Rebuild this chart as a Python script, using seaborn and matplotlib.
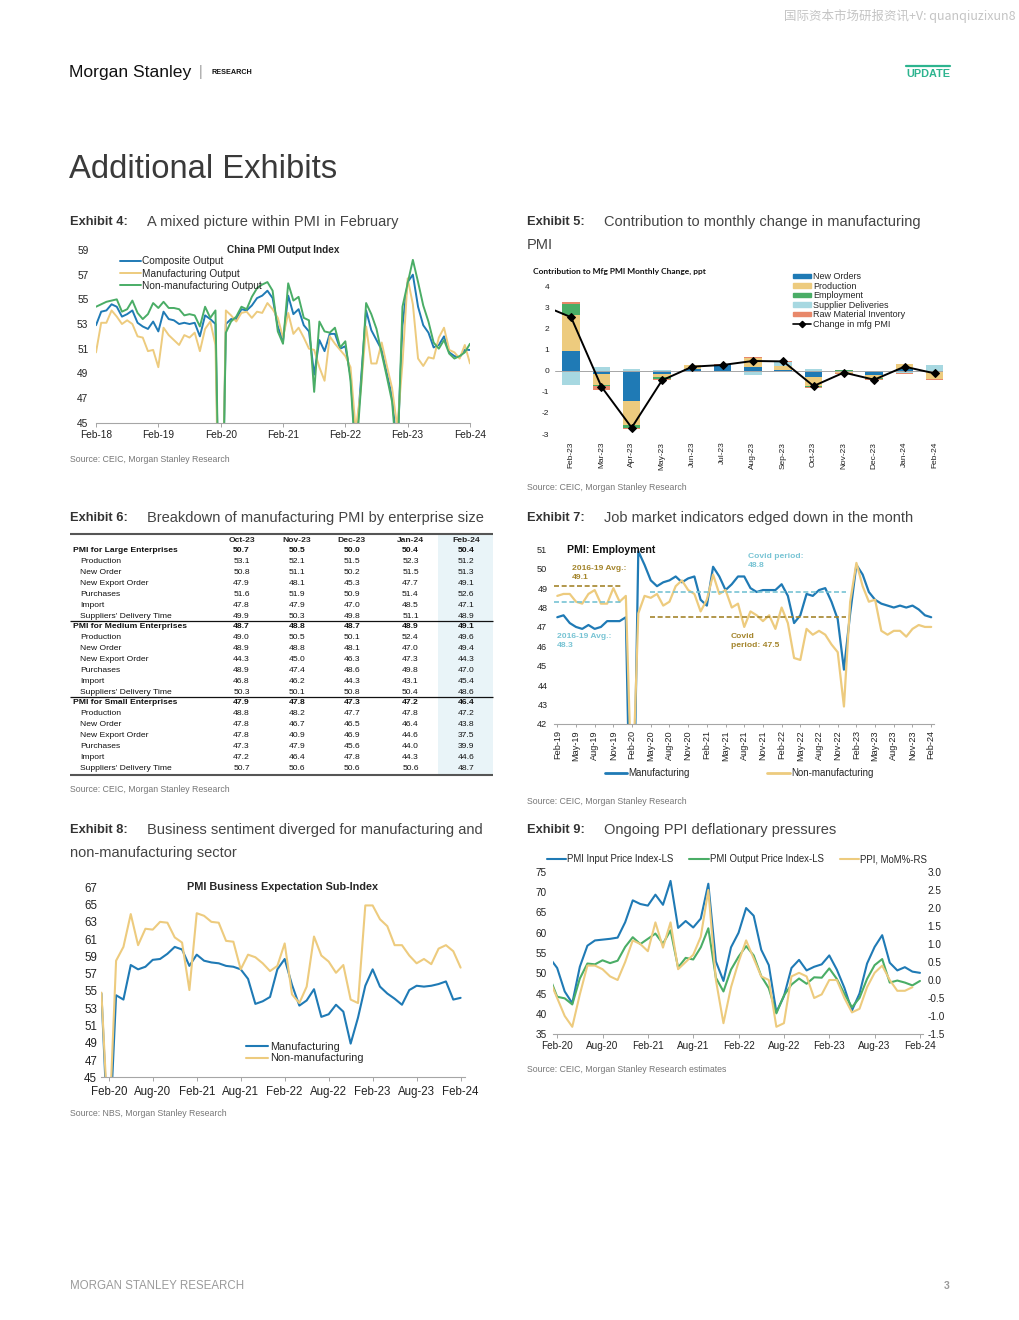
import numpy as np
import pandas as pd
import matplotlib.pyplot as plt
import seaborn as sns
from matplotlib.lines import Line2D
from matplotlib.patches import Patch

# --------------------------------------------------
# Data
# --------------------------------------------------

# Exhibit 4: China PMI output indices, monthly Feb-18 .. Feb-24
ex4_composite = [52.9, 54.0, 54.1, 54.6, 54.4, 53.6, 53.8, 54.1, 53.1, 52.8, 52.6,
                 53.2, 52.4, 54.0, 53.4, 53.3, 53.0, 53.1, 53.0, 53.1, 52.0, 53.7, 53.4,
                 53.0, 28.9, 53.0, 53.4, 53.4, 54.2, 54.1, 54.5, 55.1, 55.3, 55.7, 55.1,
                 52.8, 51.6, 55.3, 53.8, 54.2, 52.9, 52.4, 48.9, 51.7, 50.8, 52.2, 52.2,
                 51.0, 51.2, 48.8, 42.7, 48.4, 54.1, 52.5, 51.7, 50.9, 49.0, 47.1, 42.6,
                 52.9, 56.4, 57.0, 54.4, 52.9, 52.3, 51.1, 51.3, 52.0, 50.7, 50.4, 50.3,
                 50.9, 50.9]
ex4_manufacturing = [50.7, 53.1, 53.1, 54.1, 53.6, 53.0, 53.3, 53.0, 52.0, 51.9, 50.8,
                     50.9, 49.5, 52.7, 52.1, 51.7, 51.3, 52.1, 51.9, 52.3, 50.8, 52.6, 53.2,
                     51.3, 27.8, 54.1, 53.7, 53.2, 53.9, 54.0, 53.5, 54.0, 53.9, 54.7, 54.2,
                     53.5, 51.9, 53.9, 52.2, 52.7, 51.9, 51.0, 50.9, 49.5, 48.4, 52.0, 51.4,
                     50.9, 50.4, 49.5, 44.4, 47.7, 52.8, 49.8, 49.8, 51.5, 49.6, 47.8, 44.6,
                     49.8, 56.7, 54.6, 50.2, 49.6, 50.3, 50.2, 51.9, 52.7, 50.9, 50.7, 50.2,
                     51.3, 49.8]
ex4_nonmanufacturing = [54.4, 54.6, 54.8, 54.9, 55.0, 54.0, 54.2, 54.9, 53.9, 53.4, 53.8,
                        54.7, 54.3, 54.8, 54.3, 54.3, 54.2, 53.7, 53.8, 53.7, 52.8, 54.4, 53.5,
                        54.1, 29.6, 52.3, 53.2, 53.6, 54.4, 54.2, 55.2, 55.9, 56.2, 56.4, 55.7,
                        52.4, 51.4, 56.3, 54.9, 55.2, 53.5, 53.3, 47.5, 53.2, 52.4, 52.3, 52.7,
                        51.1, 51.6, 48.4, 41.9, 47.8, 54.7, 53.8, 52.6, 50.6, 48.7, 46.7, 41.6,
                        54.4, 56.3, 58.2, 56.4, 54.5, 53.2, 51.5, 51.0, 51.7, 50.6, 50.2, 50.4,
                        50.7, 51.4]
ex4_ticklabels = ["Feb-18", "Feb-19", "Feb-20", "Feb-21", "Feb-22", "Feb-23", "Feb-24"]

# Exhibit 5: contribution to monthly change in mfg PMI (ppt), Feb-23 .. Feb-24
ex5_months = ["Feb-23", "Mar-23", "Apr-23", "May-23", "Jun-23", "Jul-23", "Aug-23",
              "Sep-23", "Oct-23", "Nov-23", "Dec-23", "Jan-24", "Feb-24"]
ex5_new_orders = [0.95, -0.15, -1.45, -0.15, 0.08, 0.28, 0.20, 0.05, -0.30, -0.02, -0.20, 0.07, 0.00]
ex5_production = [1.70, -0.50, -1.10, -0.15, 0.18, 0.00, 0.40, 0.20, -0.42, -0.08, -0.12, 0.28, -0.38]
ex5_employment = [0.55, -0.07, -0.15, -0.08, 0.00, -0.04, 0.00, 0.00, -0.05, 0.03, -0.06, -0.04, -0.02]
ex5_supplier = [-0.67, 0.17, 0.07, 0.05, 0.03, 0.00, -0.20, 0.15, 0.10, 0.00, 0.00, -0.05, 0.30]
ex5_raw_material = [0.05, -0.18, -0.08, -0.07, -0.04, 0.04, 0.08, 0.05, -0.05, -0.03, -0.05, -0.05, -0.04]
# change in mfg PMI, Jan-23 .. Feb-24 (Jan-23 sits just off the left edge)
ex5_pmi_change = [3.15, 2.55, -0.75, -2.70, -0.45, 0.20, 0.28, 0.47, 0.45, -0.72, -0.08, -0.42, 0.20, -0.12]

# Exhibit 6: manufacturing PMI by enterprise size
ex6_columns = ["Oct-23", "Nov-23", "Dec-23", "Jan-24", "Feb-24"]
ex6_rows = ["PMI for Large Enterprises", "Production", "New Order", "New Export Order",
            "Purchases", "Import", "Suppliers' Delivery Time",
            "PMI for Medium Enterprises", "Production", "New Order", "New Export Order",
            "Purchases", "Import", "Suppliers' Delivery Time",
            "PMI for Small Enterprises", "Production", "New Order", "New Export Order",
            "Purchases", "Import", "Suppliers' Delivery Time"]
ex6_values = [[50.7, 50.5, 50.0, 50.4, 50.4], [53.1, 52.1, 51.5, 52.3, 51.2],
              [50.8, 51.1, 50.2, 51.5, 51.3], [47.9, 48.1, 45.3, 47.7, 49.1],
              [51.6, 51.9, 50.9, 51.4, 52.6], [47.8, 47.9, 47.0, 48.5, 47.1],
              [49.9, 50.3, 49.8, 51.1, 48.9],
              [48.7, 48.8, 48.7, 48.9, 49.1], [49.0, 50.5, 50.1, 52.4, 49.6],
              [48.9, 48.8, 48.1, 47.0, 49.4], [44.3, 45.0, 46.3, 47.3, 44.3],
              [48.9, 47.4, 48.6, 49.8, 47.0], [46.8, 46.2, 44.3, 43.1, 45.4],
              [50.3, 50.1, 50.8, 50.4, 48.6],
              [47.9, 47.8, 47.3, 47.2, 46.4], [48.8, 48.2, 47.7, 47.8, 47.2],
              [47.8, 46.7, 46.5, 46.4, 43.8], [47.8, 40.9, 46.9, 44.6, 37.5],
              [47.3, 47.9, 45.6, 44.0, 39.9], [47.2, 46.4, 47.8, 44.3, 44.6],
              [50.7, 50.6, 50.6, 50.6, 48.7]]
ex6_group_rows = [0, 7, 14]

# Exhibit 7: PMI employment, monthly Feb-19 .. Feb-24
ex7_manufacturing = [47.5, 47.6, 47.2, 47.0, 46.9, 47.1, 46.9, 47.0, 47.3, 47.3, 47.3,
                     47.5, 31.8, 50.9, 50.2, 49.4, 49.1, 49.3, 49.4, 49.6, 49.3, 49.5, 49.6,
                     48.4, 48.1, 50.1, 49.6, 48.9, 49.2, 49.6, 49.6, 49.0, 48.8, 48.9, 48.9,
                     48.9, 49.2, 48.6, 47.2, 47.6, 48.7, 48.6, 48.9, 49.0, 48.3, 47.4, 44.8,
                     47.7, 50.2, 49.7, 48.8, 48.4, 48.2, 48.1, 48.0, 48.1, 48.0, 48.1, 47.9,
                     47.6, 47.5]
ex7_nonmanufacturing = [48.6, 48.7, 48.7, 48.3, 48.2, 48.7, 48.9, 48.2, 48.2, 49.0, 48.3,
                        48.6, 37.9, 47.7, 48.6, 48.5, 48.7, 48.1, 48.3, 49.1, 49.4, 48.9, 48.7,
                        47.8, 48.4, 49.7, 48.7, 48.9, 48.0, 48.2, 47.0, 47.8, 47.6, 47.3, 47.6,
                        46.9, 48.0, 47.2, 45.4, 45.3, 46.9, 46.6, 46.8, 46.6, 46.1, 45.7, 42.9,
                        48.3, 50.3, 49.1, 48.3, 48.4, 46.8, 46.6, 46.8, 46.8, 46.5, 46.9, 47.1,
                        47.0, 47.0]
ex7_months = pd.date_range("2019-02-01", periods=61, freq="MS").strftime("%b-%y").tolist()
ex7_pre_avg = {"Manufacturing": 48.3, "Non-manufacturing": 49.1}
ex7_covid_avg = {"Manufacturing": 48.8, "Non-manufacturing": 47.5}

# Exhibit 8: PMI business expectation, monthly Jan-20 .. Feb-24
ex8_manufacturing = [54.7, 36.0, 54.5, 54.0, 58.0, 57.5, 57.8, 58.6, 58.7, 59.3, 60.1, 59.8,
                     57.9, 59.2, 58.5, 58.3, 58.2, 57.9, 57.8, 57.5, 56.4, 53.5, 53.8, 54.3,
                     57.5, 58.7, 55.7, 53.3, 53.9, 55.2, 52.0, 52.3, 53.4, 52.6, 48.9, 51.9,
                     55.6, 57.5, 55.5, 54.7, 54.1, 53.4, 55.1, 55.6, 55.5, 55.6, 55.8, 56.1,
                     54.0, 54.2]
ex8_nonmanufacturing = [54.8, 38.0, 58.5, 60.1, 63.9, 60.3, 62.2, 62.1, 63.0, 62.9, 61.2, 60.6,
                        55.1, 64.0, 63.7, 63.0, 62.9, 60.8, 60.7, 57.5, 59.2, 58.9, 58.2, 57.3,
                        57.9, 60.5, 54.6, 53.6, 55.5, 61.3, 59.1, 58.4, 57.1, 58.0, 54.0, 53.6,
                        64.9, 64.9, 63.3, 62.5, 60.3, 60.3, 59.1, 58.2, 58.7, 58.1, 59.9, 60.3,
                        59.6, 57.7]

# Exhibit 9: PMI price indices and PPI MoM, monthly Jan-20 .. Feb-24
ex9_input = [53.8, 51.3, 45.5, 42.6, 51.6, 56.8, 58.1, 58.3, 58.5, 58.8, 62.6, 68.0,
             67.1, 66.7, 69.4, 66.9, 72.8, 61.2, 62.9, 61.3, 63.5, 72.1, 52.9, 48.1,
             56.4, 60.0, 66.1, 64.2, 55.8, 52.0, 40.4, 44.3, 51.3, 53.3, 50.7, 51.6,
             52.2, 54.4, 50.9, 46.4, 40.8, 45.0, 52.4, 56.5, 59.4, 52.6, 50.7, 51.5,
             50.4, 50.1]
ex9_output = [49.0, 44.2, 43.8, 42.3, 48.7, 52.4, 52.2, 53.2, 52.5, 53.1, 56.5, 58.9,
              57.2, 58.5, 59.8, 57.3, 60.6, 51.4, 53.8, 53.4, 56.4, 61.1, 48.9, 45.5,
              50.9, 54.1, 56.7, 54.4, 49.3, 46.3, 40.1, 44.5, 47.2, 48.7, 47.4, 49.0,
              48.9, 51.2, 48.6, 44.9, 41.6, 43.9, 48.6, 52.0, 53.5, 47.7, 48.2, 47.7,
              47.0, 48.1]
ex9_ppi = [0.0, -0.5, -1.0, -1.3, -0.4, 0.4, 0.4, 0.3, 0.1, 0.0, 0.5, 1.1,
           1.0, 0.8, 1.6, 0.9, 1.6, 0.3, 0.5, 0.7, 1.2, 2.5, 0.0, -1.2,
           -0.2, 0.5, 1.1, 0.6, 0.1, 0.0, -1.3, -1.2, 0.1, 0.2, 0.1, -0.5,
           -0.4, 0.0, 0.0, -0.5, -0.9, -0.8, -0.2, 0.2, 0.4, 0.0, -0.3, -0.3,
           -0.2, np.nan]
ex89_ticklabels = ["Feb-20", "Aug-20", "Feb-21", "Aug-21", "Feb-22",
                   "Aug-22", "Feb-23", "Aug-23", "Feb-24"]

# --------------------------------------------------
# Style
# --------------------------------------------------

BLUE = "#1f7ab5"
SAND = "#edcb7e"
GREEN = "#4aad66"
LBLUE = "#a7d8e1"
SALMON = "#e8886a"
GOLD = "#a4852c"
ANN_BLUE = "#78c4d4"
AXGRAY = "#a6a6a6"
TXT = "#222222"

sns.set_theme(style="white")
plt.rcParams["font.family"] = ["Liberation Sans", "DejaVu Sans"]
plt.rcParams["axes.unicode_minus"] = False

W, H = 1020, 1320
fig = plt.figure(figsize=(W / 100, H / 100), dpi=100)


def add_ax(l, t, r, b):
    return fig.add_axes([l / W, 1 - b / H, (r - l) / W, (b - t) / H])


def ftext(x, y, s, **kw):
    kw.setdefault("va", "center")
    kw.setdefault("color", TXT)
    fig.text(x / W, 1 - y / H, s, **kw)


def fxy(x, y):
    return (x / W, 1 - y / H)


def style_axis(ax, fs, left=False):
    for s in ["top", "right", "left"]:
        ax.spines[s].set_visible(False)
    ax.spines["left"].set_visible(left)
    ax.spines["bottom"].set_color(AXGRAY)
    ax.spines["bottom"].set_linewidth(0.8)
    ax.tick_params(axis="x", bottom=True, length=3, width=0.7, color=AXGRAY,
                   labelsize=fs, labelcolor=TXT)
    ax.tick_params(axis="y", left=False, length=0, labelsize=fs, labelcolor=TXT)
    ax.set_xlabel("")
    ax.set_ylabel("")
    ax.grid(False)
    ax.set_facecolor("none")


# --------------------------------------------------
# Page header / titles
# --------------------------------------------------

ftext(1016, 16, "国际资本市场研报资讯+V: quanqiuzixun8", ha="right", fontsize=9,
      color="#c4c4c4", family=["Noto Sans CJK SC", "DejaVu Sans"])
ftext(69, 72, "Morgan Stanley", fontsize=12.6, color="#111111")
ftext(199, 72, "|", fontsize=10, color="#999999")
ftext(212, 72.5, "RESEARCH", fontsize=5.2, fontweight="bold", color="#111111")
fig.add_artist(Line2D([906 / W, 950 / W], [1 - 66 / H, 1 - 66 / H], color="#2db48f", lw=1.6))
ftext(950, 74, "UPDATE", ha="right", fontsize=7.8, fontweight="bold", color="#2db48f")
ftext(69, 169, "Additional Exhibits", fontsize=23.6, color="#3a3a3a")


def exhibit_title(x, y, num, desc, desc2=None, x2=None):
    ftext(x, y, f"Exhibit {num}:", fontsize=9.3, fontweight="bold", color="#333333")
    ftext(x + 77, y, desc, fontsize=10.5, color="#444444")
    if desc2:
        ftext(x2, y + 23, desc2, fontsize=10.5, color="#444444")


exhibit_title(70, 222, 4, "A mixed picture within PMI in February")
exhibit_title(527, 222, 5, "Contribution to monthly change in manufacturing", "PMI", 527)
exhibit_title(70, 518, 6, "Breakdown of manufacturing PMI by enterprise size")
exhibit_title(527, 518, 7, "Job market indicators edged down in the month")
exhibit_title(70, 830, 8, "Business sentiment diverged for manufacturing and",
              "non-manufacturing sector", 70)
exhibit_title(527, 830, 9, "Ongoing PPI deflationary pressures")

src_kw = dict(fontsize=6.3, color="#777777")
ftext(70, 460, "Source: CEIC, Morgan Stanley Research", **src_kw)
ftext(527, 488, "Source: CEIC, Morgan Stanley Research", **src_kw)
ftext(70, 790, "Source: CEIC, Morgan Stanley Research", **src_kw)
ftext(527, 801, "Source: CEIC, Morgan Stanley Research", **src_kw)
ftext(70, 1114, "Source: NBS, Morgan Stanley Research", **src_kw)
ftext(527, 1070, "Source: CEIC, Morgan Stanley Research estimates", **src_kw)

ftext(70, 1286, "MORGAN STANLEY RESEARCH", fontsize=8.3, color="#9a9a9a")
ftext(950, 1286, "3", ha="right", fontsize=7.5, fontweight="bold", color="#9a9a9a")

# --------------------------------------------------
# Exhibit 4
# --------------------------------------------------

ax4 = add_ax(96, 250, 470, 422.7)
df4 = pd.DataFrame({"idx": np.arange(len(ex4_composite)),
                    "Composite Output": ex4_composite,
                    "Manufacturing Output": ex4_manufacturing,
                    "Non-manufacturing Output": ex4_nonmanufacturing})
long4 = df4.melt(id_vars="idx", var_name="series", value_name="value")
sns.lineplot(data=long4, x="idx", y="value", hue="series",
             hue_order=["Composite Output", "Manufacturing Output", "Non-manufacturing Output"],
             palette=[BLUE, SAND, GREEN], linewidth=1.4, legend=False, ax=ax4)
ax4.set_xlim(0, 72)
ax4.set_ylim(45, 59)
ax4.set_yticks(range(45, 60, 2))
ax4.set_xticks(range(0, 73, 12))
ax4.set_xticklabels(ex4_ticklabels)
style_axis(ax4, 7.3)
ax4.tick_params(axis="y", pad=5.5)
ax4.tick_params(axis="x", pad=2)
ax4.text(0.5, 1.0, "China PMI Output Index", transform=ax4.transAxes, ha="center",
         va="center", fontsize=7.2, fontweight="bold")
h4 = [Line2D([], [], color=c, lw=1.4) for c in [BLUE, SAND, GREEN]]
fig.legend(h4, ["Composite Output", "Manufacturing Output", "Non-manufacturing Output"],
           loc="upper left", bbox_to_anchor=fxy(120, 256.5), frameon=False, fontsize=7.3,
           borderpad=0, borderaxespad=0, handlelength=2.05, handletextpad=0.1,
           labelspacing=0.22)

# --------------------------------------------------
# Exhibit 5
# --------------------------------------------------

ax5 = add_ax(555, 286.7, 943, 434)
x5 = np.arange(len(ex5_months))
components = [("New Orders", ex5_new_orders, BLUE),
              ("Production", ex5_production, SAND),
              ("Employment", ex5_employment, GREEN),
              ("Supplier Deliveries", ex5_supplier, LBLUE),
              ("Raw Material Inventory", ex5_raw_material, SALMON)]
pos_base = np.zeros(len(x5))
neg_base = np.zeros(len(x5))
for name, vals, col in components:
    v = np.array(vals)
    bottom = np.where(v >= 0, pos_base, neg_base)
    ax5.bar(x5, v, width=0.58, bottom=bottom, color=col, linewidth=0)
    pos_base = pos_base + np.clip(v, 0, None)
    neg_base = neg_base + np.clip(v, None, 0)
ax5.axhline(0, color=AXGRAY, lw=0.7, zorder=1)
sns.lineplot(x=np.arange(-1, len(ex5_months)), y=ex5_pmi_change, color="black",
             linewidth=1.4, marker="D", markersize=3.6, markeredgecolor="black", ax=ax5)
ax5.set_xlim(-0.53, 12.27)
ax5.set_ylim(-3, 4)
ax5.set_yticks(range(-3, 5))
ax5.set_xticks(x5)
ax5.set_xticklabels(ex5_months, rotation=90)
style_axis(ax5, 6)
ax5.spines["bottom"].set_visible(False)
ax5.tick_params(axis="x", bottom=False, pad=2.5)
ax5.tick_params(axis="y", pad=4)
ftext(533, 271, "Contribution to Mfg PMI Monthly Change, ppt", fontsize=6,
      fontweight="bold", color="#111111", family=["Lato", "Liberation Sans"])
h5 = [Patch(color=c) for _, _, c in components]
h5.append(Line2D([], [], color="black", lw=1.2, marker="D", markersize=3.2))
fig.legend(h5, [n for n, _, _ in components] + ["Change in mfg PMI"],
           loc="upper left", bbox_to_anchor=fxy(793.3, 272.3), frameon=False, fontsize=6.5,
           borderpad=0, borderaxespad=0, handlelength=2.0, handleheight=0.4,
           handletextpad=0.18, labelspacing=0.05)

# --------------------------------------------------
# Exhibit 6 (table)
# --------------------------------------------------

ax6 = add_ax(60, 528, 500, 780)
ax6.set_xlim(60, 500)
ax6.set_ylim(780, 528)
ax6.axis("off")
col_x = [241.5, 296.8, 351.8, 410.5, 466]
row_y0, row_h = 551, 10.85
ax6.fill_between([437.5, 492.7], 534, 774.5, color="#e9f4f8", lw=0)
ax6.hlines(534, 70, 493, color="#555555", lw=1.5)
ax6.hlines(774.5, 70, 493, color="#555555", lw=1.5)
for c, x in zip(ex6_columns, col_x):
    ax6.text(x, 540, c, ha="center", va="center", fontsize=6.1, fontweight="bold")
for i, (lab, vals) in enumerate(zip(ex6_rows, ex6_values)):
    y = row_y0 + i * row_h
    bold = i in ex6_group_rows
    ax6.text(73 if bold else 80.5, y, lab, ha="left", va="center", fontsize=6.1,
             fontweight="bold" if bold else "normal", color="#111111")
    for x, v in zip(col_x, vals):
        ax6.text(x, y, f"{v:.1f}", ha="center", va="center", fontsize=6.1,
                 fontweight="bold" if bold else "normal", color="#111111")
    if i in (6, 13):
        ax6.hlines(y + row_h / 2 - 0.3, 70, 493, color="#111111", lw=0.9)

# --------------------------------------------------
# Exhibit 7
# --------------------------------------------------

ax7 = add_ax(554.3, 549.3, 934.3, 724)
x7 = np.arange(len(ex7_months))
sns.lineplot(x=x7, y=ex7_manufacturing, color=BLUE, linewidth=1.6, ax=ax7)
sns.lineplot(x=x7, y=ex7_nonmanufacturing, color=SAND, linewidth=1.6, ax=ax7)
ax7.hlines(ex7_pre_avg["Non-manufacturing"], -0.5, 10.4, color=GOLD, lw=1.2, linestyles=(0, (3, 1.6)))
ax7.hlines(ex7_pre_avg["Manufacturing"], -0.5, 10.6, color=ANN_BLUE, lw=1.2, linestyles=(0, (3, 1.6)))
ax7.hlines(ex7_covid_avg["Manufacturing"], 14.9, 46.3, color=ANN_BLUE, lw=1.2, linestyles=(0, (3, 1.6)))
ax7.hlines(ex7_covid_avg["Non-manufacturing"], 14.9, 46.3, color=GOLD, lw=1.2, linestyles=(0, (3, 1.6)))
ax7.set_xlim(-0.48, 60.5)
ax7.set_ylim(42, 51)
ax7.set_yticks(range(42, 52))
ax7.set_xticks(x7[::3])
ax7.set_xticklabels(ex7_months[::3], rotation=90)
style_axis(ax7, 6.6)
ax7.tick_params(axis="y", pad=5)
ax7.tick_params(axis="x", pad=2, length=2.5)
ftext(566.7, 550, "PMI: Employment", fontsize=7.6, fontweight="bold", color="#111111")
ann_kw = dict(fontsize=6.1, fontweight="bold", va="center", linespacing=1.25)
ftext(571.7, 573, f"2016-19 Avg.:\n{ex7_pre_avg['Non-manufacturing']}", color=GOLD, **ann_kw)
ftext(557, 641, f"2016-19 Avg.:\n{ex7_pre_avg['Manufacturing']}", color=ANN_BLUE, **ann_kw)
ftext(748, 561, f"Covid period:\n{ex7_covid_avg['Manufacturing']}", color=ANN_BLUE, **ann_kw)
ftext(731, 641, f"Covid\nperiod: {ex7_covid_avg['Non-manufacturing']}", color=GOLD, **ann_kw)
h7 = [Line2D([], [], color=c, lw=2) for c in [BLUE, SAND]]
fig.legend(h7, ["Manufacturing", "Non-manufacturing"], loc="upper left", ncol=2,
           bbox_to_anchor=fxy(605, 768.5), frameon=False, fontsize=7,
           borderpad=0, borderaxespad=0, handlelength=2.27, handletextpad=0.13,
           columnspacing=8.0)

# --------------------------------------------------
# Exhibit 8
# --------------------------------------------------

ax8 = add_ax(100.7, 887.3, 465, 1077.3)
x8 = np.arange(len(ex8_manufacturing))
sns.lineplot(x=x8, y=ex8_manufacturing, color=BLUE, linewidth=1.5, ax=ax8)
sns.lineplot(x=x8, y=ex8_nonmanufacturing, color=SAND, linewidth=1.5, ax=ax8)
ax8.set_xlim(-0.1, 49.6)
ax8.set_ylim(45, 67)
ax8.set_yticks(range(45, 68, 2))
ax8.set_xticks(range(1, 50, 6))
ax8.set_xticklabels(ex89_ticklabels)
style_axis(ax8, 8.3)
ax8.tick_params(axis="y", pad=2.5)
ax8.tick_params(axis="x", pad=3)
ax8.text(0.5, 1.0, "PMI Business Expectation Sub-Index", transform=ax8.transAxes,
         ha="center", va="center", fontsize=7.8, fontweight="bold")
h8 = [Line2D([], [], color=c, lw=1.5) for c in [BLUE, SAND]]
fig.legend(h8, ["Manufacturing", "Non-manufacturing"], loc="upper left",
           bbox_to_anchor=fxy(246, 1041.5), frameon=False, fontsize=7.8,
           borderpad=0, borderaxespad=0, handlelength=2.07, handletextpad=0.2,
           labelspacing=0.18)

# --------------------------------------------------
# Exhibit 9
# --------------------------------------------------

ax9 = add_ax(553, 872, 923, 1034)
x9 = np.arange(len(ex9_input))
sns.lineplot(x=x9, y=ex9_input, color=BLUE, linewidth=1.5, ax=ax9)
sns.lineplot(x=x9, y=ex9_output, color=GREEN, linewidth=1.5, ax=ax9)
ax9.set_xlim(0.45, 49.4)
ax9.set_ylim(35, 75)
ax9.set_yticks(range(35, 76, 5))
ax9.set_xticks(range(1, 50, 6))
ax9.set_xticklabels(ex89_ticklabels)
ax9r = ax9.twinx()
sns.lineplot(x=x9, y=ex9_ppi, color=SAND, linewidth=1.5, ax=ax9r)
style_axis(ax9, 7.2)
ax9.tick_params(axis="y", pad=4.5, left=False, right=False, length=0)
ax9.tick_params(axis="x", pad=2)
ax9r.set_ylim(-1.5, 3.0)
ax9r.set_yticks(np.arange(-1.5, 3.01, 0.5))
ax9r.set_yticklabels([f"{v:.1f}" for v in np.arange(-1.5, 3.01, 0.5)])
for s in ["top", "right", "left", "bottom"]:
    ax9r.spines[s].set_visible(False)
ax9r.tick_params(axis="y", right=False, left=False, length=0, labelsize=7.2,
                 labelcolor=TXT, pad=3.4)
ax9r.set_ylabel("")
ax9r.grid(False)
h9 = [Line2D([], [], color=c, lw=1.5) for c in [BLUE, GREEN, SAND]]
fig.legend(h9, ["PMI Input Price Index-LS", "PMI Output Price Index-LS", "PPI, MoM%-RS"],
           loc="upper left", ncol=3, bbox_to_anchor=fxy(546.7, 854), frameon=False,
           fontsize=6.9, borderpad=0, borderaxespad=0, handlelength=2.0,
           handletextpad=0.1, columnspacing=1.7)

fig.savefig("out.png", dpi=100, facecolor="white")
plt.close(fig)
